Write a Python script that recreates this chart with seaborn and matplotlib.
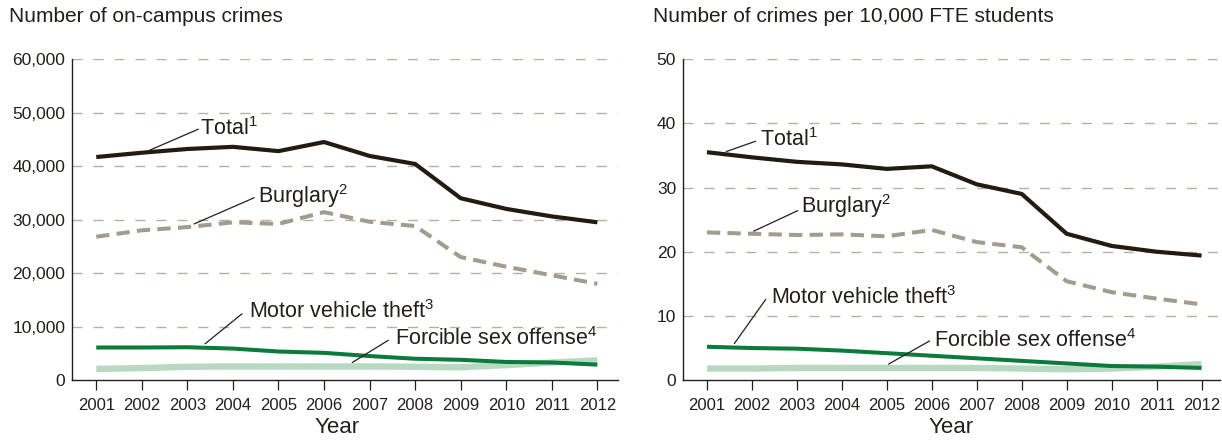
import matplotlib
matplotlib.use("Agg")
import matplotlib.pyplot as plt
import seaborn as sns
import pandas as pd
from matplotlib import font_manager

years = list(range(2001, 2013))
year_labels = [str(y) for y in years]

count_total = [41700, 42500, 43200, 43600, 42800, 44500, 41900, 40400, 34000, 32000, 30600, 29500]
count_burglary = [26800, 28000, 28600, 29500, 29200, 31400, 29600, 28800, 23000, 21200, 19600, 18000]
count_mvt = [6100, 6100, 6150, 5900, 5350, 5100, 4500, 4000, 3800, 3400, 3300, 2900]
count_fso = [2100, 2250, 2500, 2550, 2550, 2550, 2550, 2500, 2400, 2800, 3300, 3700]

rate_total = [35.5, 34.7, 34.0, 33.6, 32.9, 33.3, 30.5, 29.0, 22.8, 20.9, 20.0, 19.4]
rate_burglary = [23.0, 22.8, 22.6, 22.7, 22.4, 23.4, 21.5, 20.7, 15.4, 13.7, 12.7, 11.8]
rate_mvt = [5.2, 5.0, 4.9, 4.6, 4.2, 3.8, 3.4, 3.0, 2.6, 2.2, 2.1, 1.9]
rate_fso = [1.8, 1.8, 1.9, 1.9, 1.9, 1.9, 1.9, 1.8, 1.7, 1.8, 2.1, 2.5]

series_names = ["Total", "Burglary", "Motor vehicle theft", "Forcible sex offense"]
left_title = "Number of on-campus crimes"
right_title = "Number of crimes per 10,000 FTE students"
left_yticks = [0, 10000, 20000, 30000, 40000, 50000, 60000]
left_ylabels = ["0", "10,000", "20,000", "30,000", "40,000", "50,000", "60,000"]
right_yticks = [0, 10, 20, 30, 40, 50]
right_ylabels = ["0", "10", "20", "30", "40", "50"]

sns.set_style("white")
installed = {f.name for f in font_manager.fontManager.ttflist}
fam = "Liberation Sans Narrow" if "Liberation Sans Narrow" in installed else "Liberation Sans"
plt.rcParams["font.family"] = [fam, "DejaVu Sans"]
plt.rcParams["mathtext.default"] = "regular"

TXT = "#231f1a"
colors = {"Total": "#231a10", "Burglary": "#a39b8b",
          "Motor vehicle theft": "#0b7a3b", "Forcible sex offense": "#b7d9c2"}
widths = {"Total": 3.0, "Burglary": 2.9, "Motor vehicle theft": 2.9, "Forcible sex offense": 4.6}
dashes = {"Total": "", "Burglary": (3.3, 1.8), "Motor vehicle theft": "", "Forcible sex offense": ""}
zorders = {"Total": 5, "Burglary": 4, "Motor vehicle theft": 4, "Forcible sex offense": 3}


def make_df(vals):
    rows = []
    for name, v in zip(series_names, vals):
        for y, val in zip(years, v):
            rows.append({"year": y, "value": val, "series": name})
    return pd.DataFrame(rows)


fig = plt.figure(figsize=(12.22, 4.41), dpi=100)
axL = fig.add_axes([0.059, 0.138, 0.447, 0.728])
axR = fig.add_axes([0.559, 0.138, 0.439, 0.728])

panels = [
    (axL, make_df([count_total, count_burglary, count_mvt, count_fso]), left_yticks, left_ylabels, 60000, (2000.47, 2012.46), left_title, 0.007, 0.485),
    (axR, make_df([rate_total, rate_burglary, rate_mvt, rate_fso]), right_yticks, right_ylabels, 50, (2000.47, 2012.40), right_title, 0.534, 0.499),
]

for ax, df, yt, yl, ymax, xl, title, tx, xlab in panels:
    for name in ["Forcible sex offense", "Motor vehicle theft", "Burglary", "Total"]:
        sub = df[df.series == name]
        sns.lineplot(data=sub, x="year", y="value", ax=ax, color=colors[name],
                     lw=widths[name], dashes=False, legend=False, zorder=zorders[name],
                     solid_capstyle="butt", solid_joinstyle="round")
        if dashes[name]:
            ax.lines[-1].set_dashes(dashes[name])
            ax.lines[-1].set_dash_capstyle("butt")
    ax.set_xlim(*xl)
    ax.set_ylim(0, ymax)
    ax.set_xticks(years)
    ax.set_xticklabels(year_labels, fontsize=12, color=TXT)
    ax.set_yticks(yt)
    ax.set_yticklabels(yl, fontsize=12.5, color=TXT)
    ax.tick_params(axis="y", length=0, pad=5)
    ax.tick_params(axis="x", length=7, width=0.9, color=TXT, direction="out", pad=6, bottom=True)
    for v in yt[1:]:
        ax.axhline(v, color="#b8b0a1", lw=1.0, dashes=(7.2, 7.9), zorder=1)
    for s in ["top", "right"]:
        ax.spines[s].set_visible(False)
    for s in ["left", "bottom"]:
        ax.spines[s].set_color(TXT)
        ax.spines[s].set_linewidth(1.0)
    ax.set_xlabel("Year", fontsize=16, color=TXT)
    ax.xaxis.set_label_coords(xlab, -0.146)
    ax.xaxis.label.set_va("center")
    ax.set_ylabel("")
    fig.text(tx, 0.962, title, fontsize=15, color=TXT, ha="left", va="center")

fs = 15.5
# left annotations
annL = [
    ("Total$^{1}$", (2003.28, 47100), (2003.24, 46900), (2002.18, 43000)),
    ("Burglary$^{2}$", (2004.55, 34400), (2004.47, 34100), (2003.15, 29200)),
    ("Motor vehicle theft$^{3}$", (2004.35, 12900), (2004.2, 12400), (2003.39, 6800)),
    ("Forcible sex offense$^{4}$", (2007.56, 7700), (2007.41, 7450), (2006.62, 3300)),
]
annR = [
    ("Total$^{1}$", (2002.17, 37.4), (2002.08, 37.2), (2001.43, 35.6)),
    ("Burglary$^{2}$", (2003.1, 27.1), (2003.02, 26.4), (2002.04, 23.2)),
    ("Motor vehicle theft$^{3}$", (2002.42, 12.8), (2002.31, 12.6), (2001.61, 5.7)),
    ("Forcible sex offense$^{4}$", (2006.04, 6.2), (2005.95, 6.1), (2005.04, 2.5)),
]
for ax, anns in [(axL, annL), (axR, annR)]:
    for txt, tpos, p1, p2 in anns:
        ax.text(tpos[0], tpos[1], txt, fontsize=fs, color=TXT, ha="left", va="center", zorder=6)
        ax.plot([p1[0], p2[0]], [p1[1], p2[1]], color=TXT, lw=0.9, zorder=6)

fig.savefig("out.png", dpi=100)
